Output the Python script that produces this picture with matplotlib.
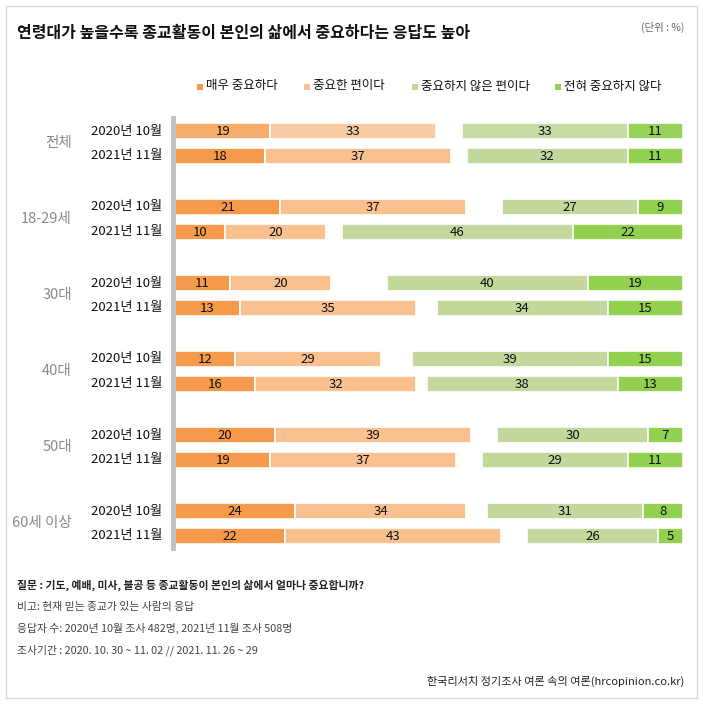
import matplotlib.pyplot as plt
from matplotlib.patches import Rectangle

plt.rcParams['font.family'] = ['Noto Sans CJK KR', 'DejaVu Sans']

groups = ['전체', '18-29세', '30대', '40대', '50대', '60세 이상']
periods = ['2020년 10월', '2021년 11월']
categories = ['매우 중요하다', '중요한 편이다', '중요하지 않은 편이다', '전혀 중요하지 않다']
colors = ['#F5994A', '#F9C190', '#C4D89D', '#92D050']

# [group][period] -> values for the 4 categories
very_important = [[19, 18], [21, 10], [11, 13], [12, 16], [20, 19], [24, 22]]
somewhat_important = [[33, 37], [37, 20], [20, 35], [29, 32], [39, 37], [34, 43]]
not_very_important = [[33, 32], [27, 46], [40, 34], [39, 38], [30, 29], [31, 26]]
not_at_all = [[11, 11], [9, 22], [19, 15], [15, 13], [7, 11], [8, 5]]

W, H = 703, 704
fig = plt.figure(figsize=(W / 100, H / 100), dpi=100)

# outer frame
fig.add_artist(Rectangle((6 / W, 6 / H), 691 / W, 692 / H, transform=fig.transFigure,
                         fill=False, edgecolor='#d9d9d9', linewidth=1))

# axes: pixel box of the plotting area
x0, x1 = 175, 683
y_top, y_bot = 110, 560
ax = fig.add_axes([x0 / W, 1 - y_bot / H, (x1 - x0) / W, (y_bot - y_top) / H])
right_end = 101.2
ax.set_xlim(0, right_end)
ax.set_ylim(y_bot, y_top)
ax.axis('off')

bar_h = 16
lw = 1.2
for g in range(len(groups)):
    for p in range(2):
        y = 131 + 76 * g + 25 * p
        # first row appears slightly highlighted in the original
        cols = colors if not (g == 0 and p == 0) else ['#F7AC6B', '#FACCA3', '#C8DBA5', '#97D25A']
        a, b = very_important[g][p], somewhat_important[g][p]
        c, d = not_very_important[g][p], not_at_all[g][p]
        ax.barh(y, a, left=0, height=bar_h, color=cols[0], edgecolor='white', linewidth=lw)
        ax.barh(y, b, left=a, height=bar_h, color=cols[1], edgecolor='white', linewidth=lw)
        ax.barh(y, c, left=right_end - d - c, height=bar_h, color=cols[2], edgecolor='white', linewidth=lw)
        ax.barh(y, d, left=right_end - d, height=bar_h, color=cols[3], edgecolor='white', linewidth=lw)
        for left, v in [(0, a), (a, b), (right_end - d - c, c), (right_end - d, d)]:
            ax.text(left + v / 2, y + 0.5, str(v), ha='center', va='center', fontsize=9.5, color='#111111')
        fig.text(162 / W, 1 - y / H, periods[p], ha='right', va='center', fontsize=9.5, color='#111111')
    fig.text(72 / W, 1 - (143.5 + 76 * g) / H, groups[g], ha='right', va='center', fontsize=10.5,
             color='#8a8a8a', style='italic')

# vertical axis line
fig.add_artist(plt.Line2D([172.5 / W, 172.5 / W], [1 - 118 / H, 1 - 548 / H], transform=fig.transFigure,
                          color='#c0c0c0', linewidth=3.5))

# title and unit
fig.text(17 / W, 1 - 33 / H, '연령대가 높을수록 종교활동이 본인의 삶에서 중요하다는 응답도 높아',
         ha='left', va='center', fontsize=11.5, fontweight='bold', color='#111111')
fig.text(684 / W, 1 - 27 / H, '(단위 : %)', ha='right', va='center', fontsize=7.5, color='#666666')

# legend
leg_x = [197, 304, 412, 555]
for lx, cat, col in zip(leg_x, categories, colors):
    fig.add_artist(Rectangle((lx / W, 1 - 90 / H), 6 / W, 6 / H, transform=fig.transFigure,
                             color=col, linewidth=0))
    fig.text((lx + 9) / W, 1 - 86 / H, cat, ha='left', va='center', fontsize=9, color='#111111')

# notes
notes = [
    ('질문 : 기도, 예배, 미사, 불공 등 종교활동이 본인의 삶에서 얼마나 중요합니까?', 'bold'),
    ('비고: 현재 믿는 종교가 있는 사람의 응답', 'normal'),
    ('응답자 수: 2020년 10월 조사 482명, 2021년 11월 조사 508명', 'normal'),
    ('조사기간 : 2020. 10. 30 ~ 11. 02 // 2021. 11. 26 ~ 29', 'normal'),
]
for i, (txt, wt) in enumerate(notes):
    fig.text(17 / W, 1 - (585 + 21.7 * i) / H, txt, ha='left', va='center', fontsize=7.8,
             fontweight=wt, color='#222222' if wt == 'bold' else '#444444')
fig.text(684 / W, 1 - 681 / H, '한국리서치 정기조사 여론 속의 여론(hrcopinion.co.kr)', ha='right',
         va='center', fontsize=8, color='#222222')

fig.savefig('out.png', dpi=100)
